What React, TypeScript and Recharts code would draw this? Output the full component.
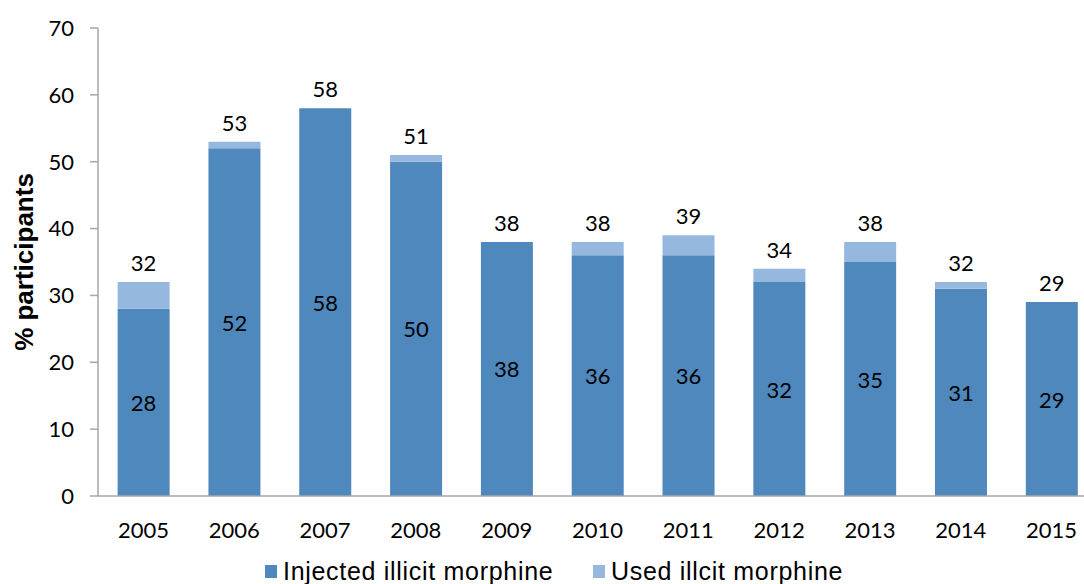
import React from 'react';
import { BarChart, Bar, XAxis, YAxis, LabelList } from 'recharts';

const years = ['2005', '2006', '2007', '2008', '2009', '2010', '2011', '2012', '2013', '2014', '2015'];
// % participants who injected illicit morphine in the past six months
const injected = [28, 52, 58, 50, 38, 36, 36, 32, 35, 31, 29];
// % participants who used illicit morphine by any route (total bar height)
const used = [32, 53, 58, 51, 38, 38, 39, 34, 38, 32, 29];
const yTicks = [0, 10, 20, 30, 40, 50, 60, 70];

const INJECTED_COLOR = '#4F88BD';
const USED_COLOR = '#97B8DE';
const AXIS_COLOR = '#A6A6A6';
const NUM_FONT = 'Lato, "Open Sans", sans-serif';
const TEXT_FONT = '"Liberation Sans", Arial, sans-serif';

const rows = years.map((year, i) => ({
  year,
  injected: injected[i],
  usedOnly: used[i] - injected[i],
  total: used[i],
}));

const InnerLabel = (props: any) => {
  const { x, y, width, height, value } = props;
  return (
    <text
      x={x + width / 2}
      y={y + height / 2}
      textAnchor="middle"
      dominantBaseline="central"
      fontFamily={NUM_FONT}
      fontSize={22}
      fill="#000"
    >
      {value}
    </text>
  );
};

const TopLabel = (props: any) => {
  const { x, y, width, value } = props;
  return (
    <text
      x={x + width / 2}
      y={y - 11}
      textAnchor="middle"
      fontFamily={NUM_FONT}
      fontSize={22}
      fill="#000"
    >
      {value}
    </text>
  );
};

// zero-height "used only" segments are not drawn, so their totals sit on the injected bar
const TopLabelOnInjected = (props: any) => {
  const { index } = props;
  if (rows[index] && rows[index].usedOnly !== 0) return null;
  return <TopLabel {...props} />;
};

const AxisTitle = (props: any) => {
  const { viewBox } = props;
  const cy = viewBox.y + viewBox.height / 2;
  return (
    <text
      x={24}
      y={cy}
      transform={`rotate(-90, 24, ${cy})`}
      textAnchor="middle"
      dominantBaseline="central"
      fontFamily={TEXT_FONT}
      fontWeight="bold"
      fontSize={26}
      fill="#000"
    >
      % participants
    </text>
  );
};

const legendItems = [
  { name: 'Injected illicit morphine', color: INJECTED_COLOR, left: 265 },
  { name: 'Used illcit morphine', color: USED_COLOR, left: 593 },
];

export default function App() {
  return (
    <div
      style={{
        position: 'absolute',
        left: 0,
        top: 0,
        width: 1084,
        height: 584,
        overflow: 'hidden',
        background: '#fff',
      }}
    >
      <BarChart
        width={1097}
        height={584}
        data={rows}
        margin={{ top: 28, right: 0, left: 0, bottom: 58 }}
        barCategoryGap="21.6%"
      >
        <XAxis
          dataKey="year"
          height={30}
          tickLine={false}
          tickSize={0}
          tickMargin={26}
          axisLine={{ stroke: AXIS_COLOR, strokeWidth: 1.5 }}
          tick={{ fill: '#000', fontSize: 22, fontFamily: NUM_FONT }}
        />
        <YAxis
          width={98}
          domain={[0, 70]}
          ticks={yTicks}
          tickSize={8}
          tickMargin={16}
          axisLine={{ stroke: AXIS_COLOR, strokeWidth: 1.5 }}
          tickLine={{ stroke: AXIS_COLOR, strokeWidth: 1.5 }}
          tick={{ fill: '#000', fontSize: 22, fontFamily: NUM_FONT }}
          label={<AxisTitle />}
        />
        <Bar dataKey="injected" stackId="s" fill={INJECTED_COLOR} isAnimationActive={false}>
          <LabelList dataKey="injected" content={<InnerLabel />} />
          <LabelList dataKey="total" content={<TopLabelOnInjected />} />
        </Bar>
        <Bar dataKey="usedOnly" stackId="s" fill={USED_COLOR} isAnimationActive={false}>
          <LabelList dataKey="total" content={<TopLabel />} />
        </Bar>
      </BarChart>
      {legendItems.map((item) => (
        <div
          key={item.name}
          style={{
            position: 'absolute',
            left: item.left,
            top: 556,
            height: 30,
            display: 'flex',
            alignItems: 'center',
            fontFamily: TEXT_FONT,
            fontSize: 25,
            letterSpacing: 0.7,
            color: '#000',
            whiteSpace: 'nowrap',
          }}
        >
          <span
            style={{
              display: 'inline-block',
              width: 12,
              height: 13,
              background: item.color,
              marginRight: 6,
            }}
          />
          {item.name}
        </div>
      ))}
    </div>
  );
}
